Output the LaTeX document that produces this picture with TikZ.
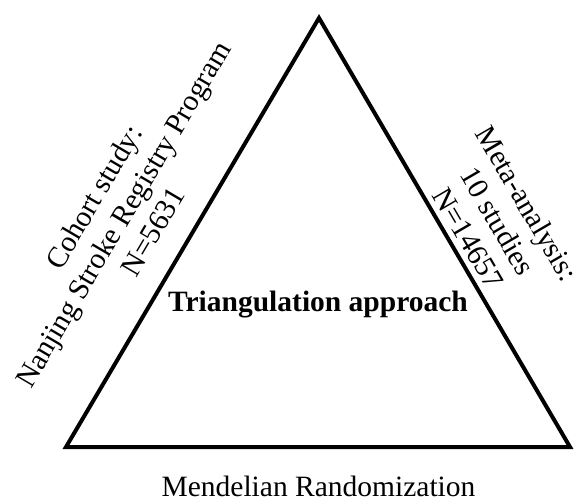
\documentclass[tikz,border=0pt]{standalone}
\usepackage{fontspec}
\setmainfont{Liberation Serif}
\begin{document}
\begin{tikzpicture}[x=1pt, y=1pt,
side/.style={line width=4pt, line join=miter},
txt/.style={inner sep=0pt, align=center, font=\fontsize{29.5}{34}\selectfont}]
\useasboundingbox (0,0) rectangle (583,498);
\coordinate (apex) at (319,480);
\coordinate (bl) at (66,51);
\coordinate (br) at (570,51);
\draw[side] (apex) -- (bl) -- (br) -- cycle;
\node[txt, rotate=59.5] (cohort) at (123,284) {Cohort study:\\Nanjing Stroke Registry Program\\N=5631};
\node[txt, rotate=-59.7] (meta) at (498,277) {Meta-analysis:\\10 studies\\N=14657};
\node[txt, anchor=base, font=\fontsize{29.5}{34}\selectfont\bfseries] (tri) at (318,186.5) {Triangulation approach};
\node[txt, anchor=base] (mr) at (318.5,2) {Mendelian Randomization};
\end{tikzpicture}
\end{document}
